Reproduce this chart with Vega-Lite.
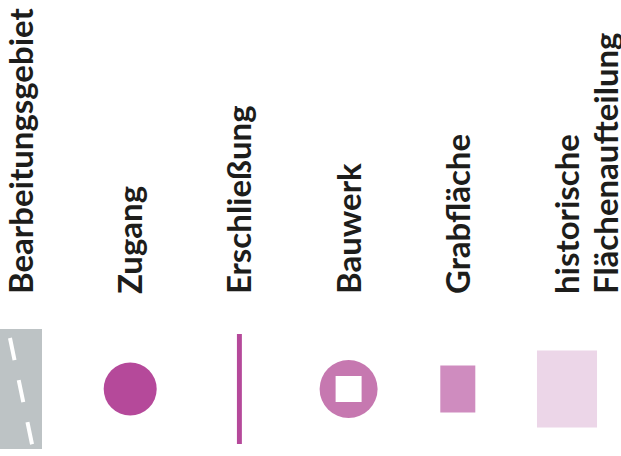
{
  "$schema": "https://vega.github.io/schema/vega-lite/v6.json",
  "width": 621,
  "height": 456,
  "padding": 0,
  "autosize": {"type": "none"},
  "background": "white",
  "config": {"view": {"stroke": null}},
  "data": {
    "values": [
      {"name": "Bearbeitungsgebiet", "label": ["Bearbeitungsgebiet"]},
      {"name": "Zugang", "label": ["Zugang"]},
      {"name": "Erschließung", "label": ["Erschließung"]},
      {"name": "Bauwerk", "label": ["Bauwerk"]},
      {"name": "Grabfläche", "label": ["Grabfläche"]},
      {"name": "historische Flächenaufteilung", "label": ["historische", "Flächenaufteilung"]}
    ]
  },
  "encoding": {
    "x": {
      "field": "name",
      "type": "nominal",
      "sort": null,
      "axis": null,
      "scale": {
        "type": "point",
        "padding": 0,
        "domain": ["Bearbeitungsgebiet", "Zugang", "Erschließung", "Bauwerk", "Grabfläche", "historische Flächenaufteilung"],
        "range": [21, 567]
      }
    }
  },
  "layer": [
    {
      "mark": {"type": "text", "angle": 270, "align": "left", "baseline": "middle", "font": "Lato", "fontSize": 33, "fontWeight": "bold", "color": "#1d1d1b", "lineHeight": 39, "dy": 2},
      "encoding": {
        "y": {"datum": "Text", "type": "nominal", "axis": null, "scale": {"type": "point", "padding": 0, "domain": ["Text", "Symbol"], "range": [294, 389]}},
        "text": {"field": "label"}
      }
    },
    {
      "transform": [{"filter": "datum.name === 'Bearbeitungsgebiet'"}],
      "mark": {"type": "point", "shape": "M-0.35,-1H0.35V1H-0.35Z", "size": 14400, "filled": true, "fill": "#bdc3c5", "strokeWidth": 0, "opacity": 1, "dy": -3},
      "encoding": {"y": {"datum": "Symbol", "type": "nominal"}}
    },
    {
      "transform": [{"filter": "datum.name === 'Bearbeitungsgebiet'"}],
      "mark": {"type": "point", "shape": "M-0.215,-1L0.2,1", "size": 14400, "filled": false, "stroke": "#ffffff", "strokeWidth": 4, "strokeDash": [22.5, 20.5], "strokeDashOffset": 33.8, "opacity": 1},
      "encoding": {"y": {"datum": "Symbol", "type": "nominal"}}
    },
    {
      "transform": [{"filter": "datum.name === 'Zugang'"}],
      "mark": {"type": "point", "shape": "circle", "size": 2809, "filled": true, "fill": "#b5499a", "strokeWidth": 0, "opacity": 1},
      "encoding": {"y": {"datum": "Symbol", "type": "nominal"}}
    },
    {
      "transform": [{"filter": "datum.name === 'Erschließung'"}],
      "mark": {"type": "point", "shape": "M-0.045,-1H0.045V1H-0.045Z", "size": 12100, "filled": true, "fill": "#b5499a", "strokeWidth": 0, "opacity": 1},
      "encoding": {"y": {"datum": "Symbol", "type": "nominal"}}
    },
    {
      "transform": [{"filter": "datum.name === 'Bauwerk'"}],
      "mark": {"type": "point", "shape": "circle", "size": 3364, "filled": true, "fill": "#c678b0", "strokeWidth": 0, "opacity": 1},
      "encoding": {"y": {"datum": "Symbol", "type": "nominal"}}
    },
    {
      "transform": [{"filter": "datum.name === 'Bauwerk'"}],
      "mark": {"type": "point", "shape": "square", "size": 676, "filled": true, "fill": "#ffffff", "strokeWidth": 0, "opacity": 1},
      "encoding": {"y": {"datum": "Symbol", "type": "nominal"}}
    },
    {
      "transform": [{"filter": "datum.name === 'Grabfläche'"}],
      "mark": {"type": "point", "shape": "M-0.745,-1H0.745V1H-0.745Z", "size": 2209, "filled": true, "fill": "#cf8cbf", "strokeWidth": 0, "opacity": 1},
      "encoding": {"y": {"datum": "Symbol", "type": "nominal"}}
    },
    {
      "transform": [{"filter": "datum.name === 'historische Flächenaufteilung'"}],
      "mark": {"type": "point", "shape": "M-0.78,-1H0.78V1H-0.78Z", "size": 5929, "filled": true, "fill": "#ecd6e8", "strokeWidth": 0, "opacity": 1},
      "encoding": {"y": {"datum": "Symbol", "type": "nominal"}}
    }
  ]
}
